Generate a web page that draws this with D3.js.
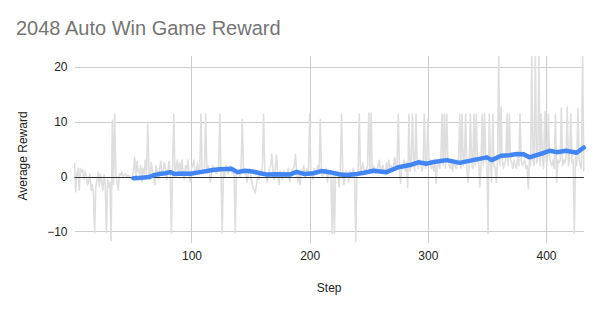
<!DOCTYPE html>
<html><head><meta charset="utf-8">
<script src="https://cdn.jsdelivr.net/npm/d3@7"></script>
<style>html,body{margin:0;padding:0;background:#fff;}svg{display:block;font-family:Arial,"Liberation Sans",sans-serif;}</style>
</head><body>
<script>
const title = "2048 Auto Win Game Reward";
const xTitle = "Step";
const yTitle = "Average Reward";
const xTicks = [100, 200, 300, 400];
const yTicks = [-10, 0, 10, 20];

// raw reward per step (gray), steps 1..432
const rawReward = [
 2.5,-2.8,0.5,1.5,-2.5,1.5,0.8,1.2,-0.5,1,
 0.2,-1.5,-1,0.5,-2.5,-1.5,-3,-10.3,-2,-0.5,
 0.8,-1.8,0.5,-1,-2.5,0.3,-1.5,-10.2,-0.5,-2,
 -1,-11.7,10.3,-1.5,11.4,0.5,-1,-2.5,0.5,0.2,
 0.8,0,0.3,0.5,0,0.2,0.1,-0.3,-0.5,-0.2,
 1.5,3.5,-0.5,2.8,1,0.5,2,-1,1.5,0.5,
 3,0.5,9.5,1,-0.5,2.5,1,0,-1.5,2,
 1,-0.5,1.5,2.8,0.5,1,2.5,1.5,-0.5,1,
 2.8,0.5,-10.3,1.5,11.4,0.5,1.5,3,0.5,2.5,
 1,3,0.5,-0.5,2,1,3,0.5,-1,1.5,
 2,3,0.5,1,2.5,1,0.5,11.4,1.5,0.5,
 1,11.4,0.5,2,1,-1,0.5,2,1,1.5,
 0.5,1,1.5,11.4,0.5,-10.3,1.5,0,2,1,
 0.5,1,2,1,0.5,1.5,-10.3,0.5,1,0.5,
 0,1.5,10.4,1,0.5,1,-1,0.5,1.5,0.5,
 -1,-2,-2.5,-3,-1.5,0,-0.5,1,0.5,2,
 11.4,1,0.5,-1,0,1.5,2,4.1,1,-0.5,
 1.5,3.9,0.5,-1.5,1,0.5,-0.5,1,0.5,0,
 0.5,1.5,-1,0,1,1.5,2,4,0.5,-1,
 0.5,-1.5,1,0.5,2,0,1,1.5,0.5,11.4,
 1,0.5,-0.5,1.5,0.5,1,2,1,10.4,0.5,
 0,1,0.5,1.5,-1,0.5,1,0,-10.4,0.5,
 -10.4,1,0.5,1,-1.9,1.5,11.4,0.5,-1.5,0,
 1,0.5,-1,1,0,0.5,1.5,0.5,-11.9,0.5,
 1,11.4,0.5,1.5,2.5,1,0.5,1.5,2,11.6,
 1,11.6,0.5,2,1.5,0.5,1,2,3,1,
 1.5,2,0.5,1,2.5,1,3,1.5,2,1,
 2,3.5,1.5,2.5,11.4,1,-1.2,2,1.5,3,
 1,2.5,-2,11.4,1,2,11.4,2.5,1,11.4,
 2,1.5,3,2.5,1,2,11.4,1.5,2,10.4,
 2.5,3,1.5,2,1,3,-1.2,2,2.5,1.5,
 3,11.4,2,11.4,1.5,11.4,3,2,1.5,2.5,
 1,3,2,1.5,3,2.5,11.4,1.5,11.4,2,
 3,11.4,1.5,-1.1,2,11.4,3,1.5,11.4,2,
 11.4,2.5,3,-1.9,1.5,11.4,2,11.4,3,2.5,
 -10.4,11.4,3,-1.1,11.4,2,1.5,-1.1,3,22,
 2,12.7,3,1.5,2.5,3,11.4,2,11.4,3,
 2.5,1.5,3,2,1.5,3.5,2,11.4,3,2,
 2.5,3,1.5,2,-2.2,3,2,22,3,2,
 22,2.5,3,22,2,11.4,3,1.5,11.8,3,
 2,11.4,3.5,2.5,2,3,1.5,11.4,-1.1,3,
 2.5,3,12.5,2,3,2.5,3.5,12.7,2,3,
 11.5,2.5,3,-10.4,3.5,2,12.4,3,2,1.5,22,1
];

// smoothed (blue) series, read at selected steps
const avgSteps = [51,58,64,69,74,78,82,86,92,99,110,118,124,134,139,145,152,158,164,172,183,189,196,203,210,217,226,232,238,246,254,265,275,285,292,299,305,316,327,338,350,354,362,369,375,381,386,392,398,403,409,417,426,432];
const avgValues = [-0.3,-0.2,-0.1,0.3,0.5,0.6,0.8,0.45,0.55,0.5,0.9,1.2,1.35,1.4,0.8,1.05,0.9,0.6,0.35,0.4,0.35,0.85,0.45,0.6,1.0,0.8,0.35,0.3,0.4,0.7,1.05,0.8,1.7,2.1,2.6,2.35,2.65,3.0,2.5,3.0,3.5,3.0,3.8,3.9,4.1,4.05,3.5,3.9,4.3,4.7,4.45,4.7,4.35,5.3];

const W = 600, H = 310;
const svg = d3.select("body").append("svg").attr("width", W).attr("height", H);

const x = d3.scaleLinear().domain([1, 432]).range([74.5, 583.8]);
const y = d3.scaleLinear().domain([-12.13, 22]).range([243, 56]);

svg.append("text").attr("x", 16).attr("y", 35).attr("font-size", 20).attr("fill", "#757575").text(title);

// horizontal gridlines
const yAxis = d3.axisLeft(y).tickValues(yTicks).tickSize(-(583.8 - 74.5)).tickPadding(7).tickFormat(d3.format("d"));
const gy = svg.append("g").attr("transform", "translate(74.5,0)").call(yAxis);
gy.select(".domain").remove();
gy.selectAll(".tick line").attr("stroke", "#cccccc").attr("stroke-width", 1).attr("shape-rendering", "crispEdges");
gy.selectAll(".tick text").attr("font-size", 12).attr("fill", "#222").attr("font-family", "Arial, 'Liberation Sans', sans-serif");

// vertical gridlines
const xAxis = d3.axisBottom(x).tickValues(xTicks).tickSize(-(243 - 56)).tickPadding(8).tickFormat(d3.format("d"));
const gx = svg.append("g").attr("transform", "translate(0,243)").call(xAxis);
gx.select(".domain").remove();
gx.selectAll(".tick line").attr("stroke", "#cccccc").attr("stroke-width", 1).attr("shape-rendering", "crispEdges");
gx.selectAll(".tick text").attr("font-size", 12).attr("fill", "#222").attr("font-family", "Arial, 'Liberation Sans', sans-serif");

svg.append("defs").append("clipPath").attr("id", "clip")
  .append("rect").attr("x", 74).attr("y", 56).attr("width", 511).attr("height", 187);

const rawData = rawReward.map((v, i) => [i + 1, v]);
svg.append("path").datum(rawData)
  .attr("clip-path", "url(#clip)")
  .attr("fill", "none").attr("stroke", "#dedede").attr("stroke-width", 1.6)
  .attr("stroke-linejoin", "round")
  .attr("d", d3.line().x(d => x(d[0])).y(d => y(d[1])));

// zero baseline
svg.append("line").attr("x1", 74.5).attr("x2", 583.8).attr("y1", Math.round(y(0)) + 0.5).attr("y2", Math.round(y(0)) + 0.5)
  .attr("stroke", "#333").attr("stroke-width", 1);

const avgData = avgSteps.map((s, i) => [s, avgValues[i]]);
svg.append("path").datum(avgData)
  .attr("fill", "none").attr("stroke", "#4285f4").attr("stroke-width", 4.5)
  .attr("stroke-linejoin", "round").attr("stroke-linecap", "round")
  .attr("d", d3.line().x(d => x(d[0])).y(d => y(d[1])));

svg.append("text").attr("x", (74.5 + 583.8) / 2).attr("y", 292).attr("text-anchor", "middle")
  .attr("font-size", 12).attr("fill", "#222").text(xTitle);
svg.append("text").attr("transform", "translate(27,156) rotate(-90)").attr("text-anchor", "middle")
  .attr("font-size", 12).attr("fill", "#222").text(yTitle);
</script>
</body></html>
